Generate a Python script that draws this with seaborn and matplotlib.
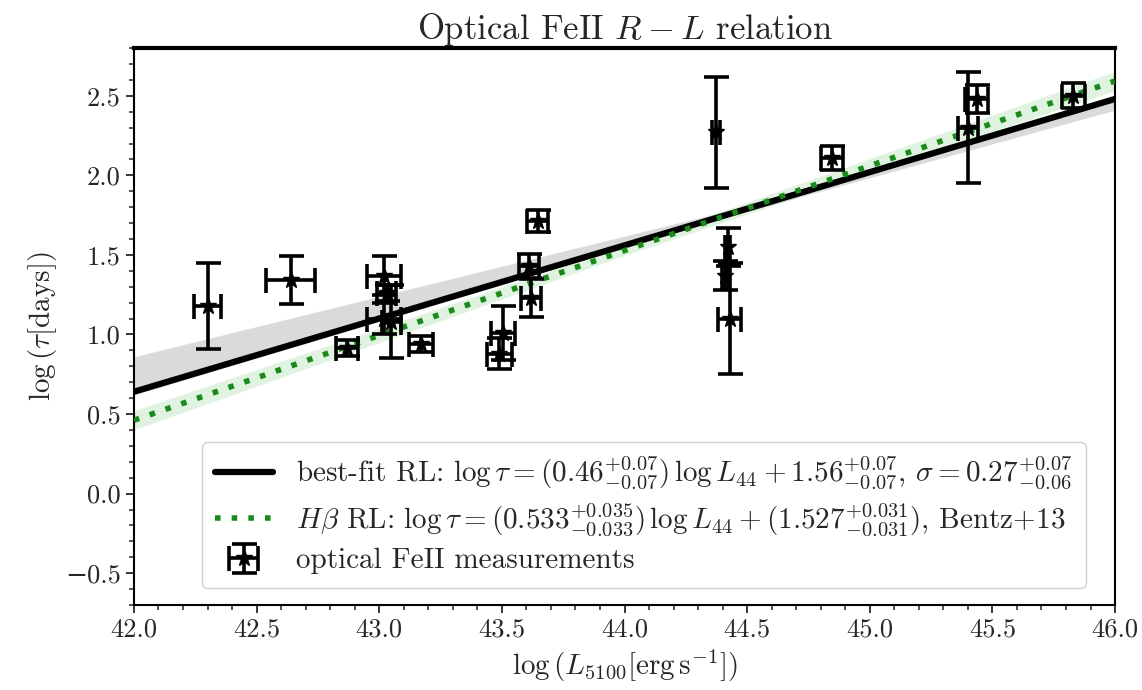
import numpy as np
import matplotlib
matplotlib.use("Agg")
import matplotlib.pyplot as plt
import seaborn as sns

# Optical FeII reverberation measurements: log L5100 and log lag (days)
log_L = [42.30, 42.64, 42.87, 43.02, 43.03, 43.02, 43.05, 43.17, 43.49, 43.505,
         43.61, 43.62, 43.647, 44.373, 44.41, 44.42, 44.43, 44.846, 45.40, 45.437, 45.83]
log_tau = [1.18, 1.34, 0.915, 1.37, 1.26, 1.10, 1.08, 0.94, 0.88, 1.01,
           1.43, 1.23, 1.715, 2.27, 1.37, 1.55, 1.10, 2.11, 2.30, 2.48, 2.50]
log_L_err = [0.055, 0.10, 0.045, 0.07, 0.04, 0.07, 0.04, 0.05, 0.05, 0.05,
             0.04, 0.04, 0.043, 0.015, 0.012, 0.012, 0.047, 0.045, 0.04, 0.047, 0.048]
log_tau_err = [0.27, 0.15, 0.05, 0.12, 0.05, 0.10, 0.23, 0.05, 0.10, 0.17,
               0.075, 0.12, 0.07, 0.35, 0.09, 0.12, 0.35, 0.075, 0.35, 0.09, 0.08]

# Best-fit relation and its credible band (edges at a few luminosities)
fit_slope, fit_icpt = 0.46, 1.56
band_L = [42.0, 44.4, 46.0]
band_lo = [0.62, 1.73, 2.41]
band_hi = [0.86, 1.77, 2.50]

# Hbeta R-L relation, Bentz+13, with its narrow uncertainty band
hb_slope, hb_icpt = 0.533, 1.527
hb_band_L = [42.0, 44.0, 46.0]
hb_band_half = [0.06, 0.03, 0.06]

x_ticks = [42.0, 42.5, 43.0, 43.5, 44.0, 44.5, 45.0, 45.5, 46.0]
y_ticks = [-0.5, 0.0, 0.5, 1.0, 1.5, 2.0, 2.5]

sns.set_style("ticks")
plt.rcParams["font.family"] = ["cmr10", "DejaVu Serif"]
plt.rcParams["mathtext.fontset"] = "cm"
plt.rcParams["axes.formatter.use_mathtext"] = True

fig = plt.figure(figsize=(11.42, 6.90), dpi=100)
ax = fig.add_axes([0.1173, 0.1232, 0.8591, 0.8072])

xs = np.linspace(42.0, 46.0, 200)
fit_line = fit_slope * (xs - 44.0) + fit_icpt
hb_line = hb_slope * (xs - 44.0) + hb_icpt
hb_half = np.interp(xs, hb_band_L, hb_band_half)

ax.fill_between(xs, np.interp(xs, band_L, band_lo), np.interp(xs, band_L, band_hi),
                color="#bdbdbd", alpha=0.55, lw=0, zorder=1)
ax.fill_between(xs, hb_line - hb_half, hb_line + hb_half,
                color="#a8dca8", alpha=0.35, lw=0, zorder=1)

sns.lineplot(x=xs, y=fit_line, ax=ax, color="black", lw=4.5, zorder=3,
             label=r"best-fit RL: $\log{\tau}=(0.46^{+0.07}_{-0.07})\,\log{L_{44}}+1.56^{+0.07}_{-0.07}$, $\sigma=0.27^{+0.07}_{-0.06}$")
sns.lineplot(x=xs, y=hb_line, ax=ax, color="#1a8a1a", lw=4, ls=(0, (1, 2)), zorder=3,
             label=r"$H\beta$ RL: $\log{\tau}=(0.533^{+0.035}_{-0.033})\,\log{L_{44}}+(1.527^{+0.031}_{-0.031})$, Bentz+13")

ax.errorbar(log_L, log_tau, xerr=log_L_err, yerr=log_tau_err, fmt="*", color="black",
            ms=12, elinewidth=2.6, capsize=9, capthick=2.6, zorder=4,
            label="optical FeII measurements")

ax.set_xlim(42.0, 46.0)
ax.set_ylim(-0.7, 2.8)
ax.set_xticks(x_ticks)
ax.set_yticks(y_ticks)
ax.set_xticklabels([f"{v:.1f}" for v in x_ticks])
ax.set_yticklabels([f"{v:.1f}".replace("-", "\u2212") for v in y_ticks])
ax.xaxis.set_minor_locator(matplotlib.ticker.MultipleLocator(0.1))
ax.yaxis.set_minor_locator(matplotlib.ticker.MultipleLocator(0.1))
ax.tick_params(which="major", length=6, width=1.3, labelsize=19, direction="out")
ax.tick_params(which="minor", length=3.5, width=1.1, direction="out")
for side in ax.spines.values():
    side.set_linewidth(1.5)
    side.set_color("black")
ax.spines["top"].set_linewidth(3)

ax.set_xlabel(r"$\log{(L_{5100}[\mathrm{erg\,s^{-1}}])}$", fontsize=21)
ax.set_ylabel(r"$\log{(\tau[\mathrm{days}])}$", fontsize=21)
ax.set_title(r"Optical FeII $R-L$ relation", fontsize=25, pad=6)

leg = ax.legend(loc="lower right", bbox_to_anchor=(0.985, 0.005), fontsize=21,
                frameon=True, fancybox=True, framealpha=0.9, edgecolor="#cccccc",
                handlelength=2.0, borderpad=0.45, labelspacing=0.35, handletextpad=0.8)

fig.savefig("out.png", dpi=100)
